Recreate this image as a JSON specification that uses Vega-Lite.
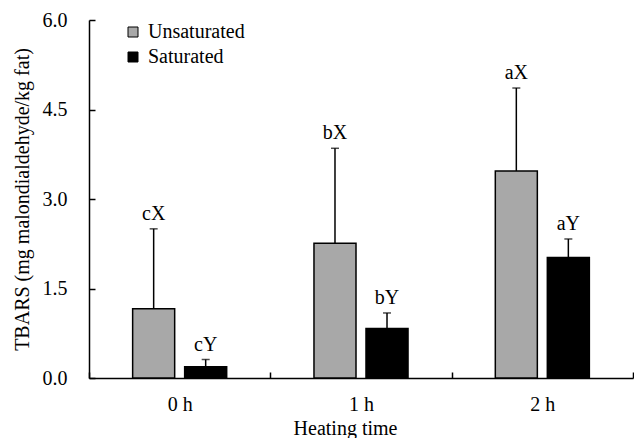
{
  "$schema": "https://vega.github.io/schema/vega-lite/v6.json",
  "width": 544,
  "height": 358,
  "autosize": {"type": "none"},
  "padding": {"left": 89, "top": 20, "right": 1, "bottom": 60},
  "background": "white",
  "config": {
    "view": {"stroke": null},
    "font": "Liberation Serif",
    "axis": {"grid": false, "domainColor": "black", "domainWidth": 1.5, "tickColor": "black", "tickWidth": 1.5, "labelColor": "black", "titleColor": "black", "labelFont": "Liberation Serif", "titleFont": "Liberation Serif", "labelFontSize": 20, "titleFontSize": 20, "titleFontWeight": "normal"}
  },
  "data": {
    "values": [
      {"time": "0 h", "group": "Unsaturated", "value": 1.16, "upper": 2.50, "label": "cX"},
      {"time": "0 h", "group": "Saturated", "value": 0.19, "upper": 0.31, "label": "cY"},
      {"time": "1 h", "group": "Unsaturated", "value": 2.26, "upper": 3.85, "label": "bX"},
      {"time": "1 h", "group": "Saturated", "value": 0.83, "upper": 1.09, "label": "bY"},
      {"time": "2 h", "group": "Unsaturated", "value": 3.47, "upper": 4.86, "label": "aX"},
      {"time": "2 h", "group": "Saturated", "value": 2.02, "upper": 2.33, "label": "aY"}
    ]
  },
  "encoding": {
    "x": {
      "field": "time", "type": "nominal", "sort": ["0 h", "1 h", "2 h"],
      "scale": {"paddingInner": 0, "paddingOuter": 0},
      "axis": {"title": "Heating time", "labelAngle": 0, "tickBand": "extent", "tickSize": -6, "labelPadding": 22, "titlePadding": 4, "titleX": 256}
    },
    "xOffset": {
      "field": "group", "type": "nominal", "sort": ["Unsaturated", "Saturated"],
      "scale": {"paddingInner": 0.192, "paddingOuter": 0.839}
    }
  },
  "layer": [
    {
      "mark": {"type": "bar", "stroke": "black", "strokeWidth": 1.5},
      "encoding": {
        "y": {
          "field": "value", "type": "quantitative",
          "scale": {"domain": [0, 6], "nice": false},
          "axis": {"title": "TBARS (mg malondialdehyde/kg fat)", "values": [0, 1.5, 3, 4.5, 6], "format": ".1f", "tickSize": -6, "labelPadding": 28, "titlePadding": 10}
        },
        "fill": {
          "field": "group", "type": "nominal", "sort": ["Unsaturated", "Saturated"],
          "scale": {"domain": ["Unsaturated", "Saturated"], "range": ["#a8a8a8", "black"]},
          "legend": {"title": null, "orient": "none", "legendX": 34, "legendY": 2, "padding": 0, "symbolType": "square", "symbolSize": 100, "symbolStrokeColor": "black", "symbolStrokeWidth": 1, "labelFont": "Liberation Serif", "labelFontSize": 20, "labelColor": "black", "labelOffset": 5, "rowPadding": 5}
        }
      }
    },
    {
      "mark": {"type": "rule", "color": "black", "strokeWidth": 1.5},
      "encoding": {
        "y": {"field": "value", "type": "quantitative"},
        "y2": {"field": "upper"}
      }
    },
    {
      "mark": {"type": "tick", "color": "black", "size": 8, "thickness": 1.5, "orient": "horizontal"},
      "encoding": {
        "y": {"field": "upper", "type": "quantitative"}
      }
    },
    {
      "mark": {"type": "text", "baseline": "alphabetic", "dy": -9, "fontSize": 20, "font": "Liberation Serif", "color": "black"},
      "encoding": {
        "y": {"field": "upper", "type": "quantitative"},
        "text": {"field": "label"}
      }
    }
  ]
}
